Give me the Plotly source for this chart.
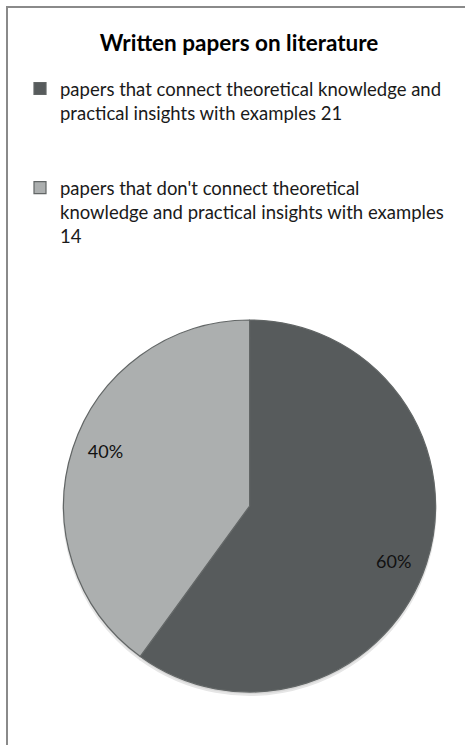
import plotly.graph_objects as go

categories = [
    "papers that connect theoretical knowledge and practical insights with examples",
    "papers that don't connect theoretical knowledge and practical insights with examples",
]
values = [21, 14]
legend_labels = [
    "papers that connect theoretical knowledge and<br>practical insights with examples 21<br> <br> ",
    "papers that don't connect theoretical<br>knowledge and practical insights with examples<br>14",
]
colors = ["#575b5c", "#acafaf"]

W, H = 465, 745
# pie box (px): x 63.6..435.6, y 320..692
pie_domain = dict(x=[63.6 / W, 435.6 / W], y=[(H - 692) / H, (H - 320) / H])
shadow_domain = dict(x=[63.6 / W, 435.6 / W], y=[(H - 695) / H, (H - 323) / H])

fig = go.Figure()
# soft drop shadow under the pie
fig.add_trace(
    go.Pie(
        labels=legend_labels,
        values=values,
        sort=True,
        direction="clockwise",
        showlegend=False,
        marker=dict(colors=["#d6d6d6", "#d6d6d6"], line=dict(color="#e6e6e6", width=2)),
        textinfo="none",
        domain=shadow_domain,
        hoverinfo="skip",
    )
)
# main pie (colours + legend)
fig.add_trace(
    go.Pie(
        labels=legend_labels,
        values=values,
        customdata=categories,
        sort=True,
        direction="clockwise",
        rotation=0,
        marker=dict(colors=colors, line=dict(color="#626666", width=1.2)),
        textinfo="none",
        domain=pie_domain,
        hoverinfo="label+value+percent",
    )
)
# transparent ring carrying the percentage labels (placed at ~0.83 R)
fig.add_trace(
    go.Pie(
        labels=legend_labels,
        values=values,
        sort=True,
        direction="clockwise",
        rotation=3,
        hole=0.66,
        showlegend=False,
        marker=dict(colors=["rgba(0,0,0,0)", "rgba(0,0,0,0)"], line=dict(width=0)),
        texttemplate="%{percent:.0%}",
        textposition="inside",
        insidetextorientation="horizontal",
        insidetextfont=dict(family="Lato", size=18, color="#111111"),
        domain=pie_domain,
        hoverinfo="skip",
    )
)

fig.update_layout(
    width=W,
    height=H,
    margin=dict(l=0, r=0, t=0, b=0),
    paper_bgcolor="white",
    font=dict(family="Lato", size=18.5, color="#1a1a1a"),
    title=dict(
        text="<b>Written papers on literature</b>",
        x=239 / W,
        xanchor="center",
        y=1 - 43 / H,
        yanchor="middle",
        font=dict(family="Lato", size=22.5, color="#000000"),
    ),
    legend=dict(
        x=20 / W,
        xanchor="left",
        y=1 - 70 / H,
        yanchor="top",
        valign="top",
        font=dict(family="Lato", size=18.5, color="#1a1a1a"),
        bgcolor="rgba(0,0,0,0)",
        traceorder="normal",
    ),
    shapes=[
        dict(type="line", xref="paper", yref="paper", x0=6 / W, x1=1.02, y0=1 - 7 / H, y1=1 - 7 / H,
             line=dict(color="#8a8a8a", width=2)),
        dict(type="line", xref="paper", yref="paper", x0=7 / W, x1=7 / W, y0=1 - 6 / H, y1=-0.02,
             line=dict(color="#8a8a8a", width=2)),
    ],
)

fig.write_html(
    "out.html",
    config={"displayModeBar": False},
    post_script="document.body.style.margin='0';",
)
